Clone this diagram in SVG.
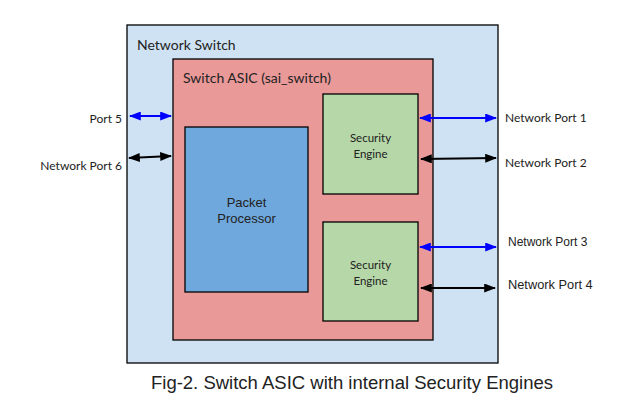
<svg xmlns="http://www.w3.org/2000/svg" width="640" height="413" viewBox="0 0 640 413">
<defs>
<marker id="ab" viewBox="0 0 10 10" refX="9" refY="5" markerWidth="6" markerHeight="4.5" orient="auto-start-reverse" markerUnits="strokeWidth" preserveAspectRatio="none"><path d="M0,0 L10,5 L0,10 z" fill="#0000ff"/></marker>
<marker id="ak" viewBox="0 0 10 10" refX="9" refY="5" markerWidth="6" markerHeight="4.5" orient="auto-start-reverse" markerUnits="strokeWidth" preserveAspectRatio="none"><path d="M0,0 L10,5 L0,10 z" fill="#000"/></marker>
<style>
.box{stroke:#000;stroke-width:1.3}
.c{font-family:Lato,"Open Sans","Liberation Sans",sans-serif;fill:#222}
.a{font-family:"Liberation Sans",Arial,sans-serif;fill:#222}
.bl{stroke:#0000ff;stroke-width:2;fill:none;marker-start:url(#ab);marker-end:url(#ab)}
.bk{stroke:#000;stroke-width:2;fill:none;marker-start:url(#ak);marker-end:url(#ak)}
</style>
</defs>
<rect width="640" height="413" fill="#fff"/>
<g id="network-switch">
<rect class="box" x="127" y="25" width="371" height="338" fill="#cfe2f3"/>
<text class="c" x="137" y="50" font-size="14">Network Switch</text>
</g>
<g id="switch-asic">
<rect class="box" x="173" y="59" width="260" height="281" fill="#ea9999"/>
<text class="c" x="183" y="83" font-size="14">Switch ASIC (sai_switch)</text>
</g>
<g id="packet-processor">
<rect class="box" x="185" y="127" width="123" height="165" fill="#6fa8dc"/>
<text class="a" x="246.5" y="207" font-size="13" text-anchor="middle">Packet</text>
<text class="a" x="246.5" y="223" font-size="13" text-anchor="middle">Processor</text>
</g>
<g id="security-engine-1">
<rect class="box" x="323" y="94" width="95" height="100" fill="#b6d7a8"/>
<text class="c" x="370.5" y="142" font-size="11.5" text-anchor="middle">Security</text>
<text class="c" x="370.5" y="158" font-size="11.5" text-anchor="middle">Engine</text>
</g>
<g id="security-engine-2">
<rect class="box" x="323" y="222" width="95" height="99" fill="#b6d7a8"/>
<text class="c" x="370.5" y="269" font-size="11.5" text-anchor="middle">Security</text>
<text class="c" x="370.5" y="285" font-size="11.5" text-anchor="middle">Engine</text>
</g>
<g id="connectors">
<line class="bl" x1="130" y1="116" x2="171" y2="116"/>
<line class="bk" x1="129" y1="158" x2="171" y2="156"/>
<line class="bl" x1="420" y1="118" x2="496" y2="118"/>
<line class="bk" x1="421" y1="159" x2="496" y2="158"/>
<line class="bl" x1="420" y1="247" x2="496" y2="247"/>
<line class="bk" x1="421" y1="288" x2="495" y2="288"/>
</g>
<g id="labels">
<text class="c" x="122" y="123" font-size="12" text-anchor="end">Port 5</text>
<text class="c" x="122" y="170" font-size="12" text-anchor="end">Network Port 6</text>
<text class="c" x="505" y="122" font-size="12">Network Port 1</text>
<text class="c" x="505" y="167" font-size="12">Network Port 2</text>
<text class="a" x="508" y="246" font-size="12">Network Port 3</text>
<text class="a" x="508" y="289" font-size="12.8">Network Port 4</text>
<text class="a" x="352" y="389" font-size="18.5" text-anchor="middle">Fig-2. Switch ASIC with internal Security Engines</text>
</g>
</svg>
